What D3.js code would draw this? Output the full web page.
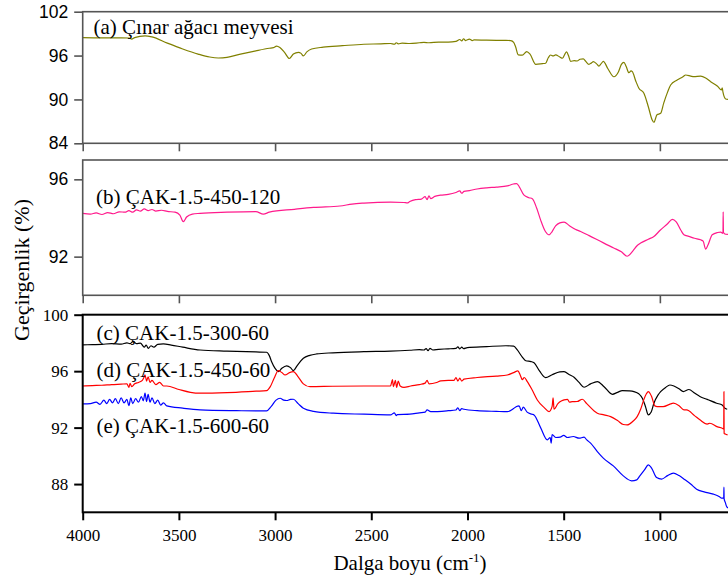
<!DOCTYPE html>
<html>
<head>
<meta charset="utf-8">
<script src="https://cdn.jsdelivr.net/npm/d3@7/dist/d3.min.js"></script>
<style>
  html, body { margin: 0; padding: 0; background: #fff; }
  svg { display: block; }
</style>
</head>
<body>
<svg id="chart" width="728" height="580"></svg>
<script>
// FTIR spectra: wavenumber (cm-1) and transmittance (%)
const xTicks = [4000, 3500, 3000, 2500, 2000, 1500, 1000];

const ticksA = [84, 90, 96, 102];
const ticksB = [92, 96];
const ticksC = [88, 92, 96, 100];

const labelA = "(a) Çınar ağacı meyvesi";
const labelB = "(b) ÇAK-1.5-450-120";
const labelC = "(c) ÇAK-1.5-300-60";
const labelD = "(d) ÇAK-1.5-450-60";
const labelE = "(e) ÇAK-1.5-600-60";

const seriesA = [
  [4000,98.45],[3900,98.42],[3800,98.42],[3760,98.4],[3745,98.25],[3730,98.45],[3676,98.7],[3640,98.55],
  [3560,97.7],[3480,96.9],[3400,96.2],[3340,95.8],[3295,95.67],[3250,95.75],[3180,96.2],[3100,96.65],
  [3030,97.0],[3009,97.08],[2992,97.3],[2975,97.1],[2950,96.4],[2926,95.6],[2905,96.2],[2879,96.45],
  [2865,96.3],[2853,95.95],[2835,96.5],[2810,96.9],[2750,97.15],[2650,97.35],[2538,97.55],[2450,97.6],
  [2400,97.65],[2380,97.55],[2370,97.75],[2360,97.6],[2340,97.7],[2300,97.65],[2250,97.75],[2226,97.8],
  [2200,97.75],[2150,97.85],[2100,97.85],[2060,97.95],[2040,98.2],[2030,98.0],[2020,98.3],[2010,98.05],
  [1990,98.25],[1975,98.05],[1966,98.15],[1900,98.1],[1800,98.08],[1775,98.05],[1760,97.8],[1750,97.2],
  [1736,96.1],[1715,96.06],[1692,96.55],[1675,96.2],[1645,94.8],[1610,94.9],[1594,94.95],[1580,95.7],
  [1568,96.08],[1555,95.95],[1542,96.1],[1520,95.8],[1507,95.63],[1485,96.5],[1475,96.0],[1464,95.2],
  [1445,95.3],[1430,95.26],[1415,95.5],[1398,95.55],[1385,95.2],[1369,94.8],[1355,95.0],[1346,95.17],
  [1330,94.9],[1317,94.56],[1305,94.9],[1294,95.2],[1270,94.2],[1239,93.1],[1215,93.8],[1200,94.8],
  [1187,95.08],[1175,94.5],[1161,93.66],[1150,93.9],[1143,93.8],[1125,92.5],[1109,91.53],[1083,90.84],
  [1060,89.0],[1040,87.2],[1031,86.88],[1015,87.9],[996,88.1],[980,89.5],[960,91.0],[944,91.98],
  [910,92.66],[880,93.1],[866,93.34],[840,93.2],[823,93.11],[788,93.2],[760,92.9],[736,92.43],
  [700,91.8],[680,91.3],[676,91.6],[672,91.0],[658,90.06],[646,90.0]
];

const seriesB = [
  [4000,94.24],[3960,94.2],[3930,94.26],[3900,94.18],[3870,94.28],[3840,94.22],[3810,94.32],[3780,94.3],
  [3760,94.38],[3740,94.3],[3720,94.42],[3700,94.36],[3680,94.47],[3660,94.38],[3640,94.44],[3620,94.36],
  [3590,94.4],[3560,94.34],[3520,94.3],[3495,94.15],[3477,93.81],[3460,94.05],[3430,94.2],[3390,94.24],
  [3250,94.3],[3100,94.33],[3061,94.2],[3030,94.3],[2900,94.45],[2800,94.55],[2663,94.62],[2600,94.72],
  [2538,94.77],[2400,94.82],[2330,94.8],[2313,94.78],[2300,94.85],[2270,94.95],[2240,94.98],[2220,95.1],
  [2210,94.95],[2200,95.15],[2191,95.0],[2170,95.12],[2140,95.18],[2100,95.22],[2060,95.32],[2040,95.4],
  [2030,95.28],[2018,95.38],[1990,95.42],[1950,95.5],[1900,95.56],[1850,95.6],[1793,95.66],[1760,95.76],
  [1744,95.78],[1730,95.6],[1706,95.18],[1680,95.05],[1663,95.0],[1640,94.5],[1620,93.9],[1595,93.3],
  [1576,93.13],[1560,93.3],[1542,93.59],[1520,93.75],[1498,93.79],[1470,93.6],[1440,93.42],[1412,93.3],
  [1370,93.1],[1330,92.9],[1291,92.7],[1240,92.45],[1200,92.25],[1170,92.02],[1140,92.3],[1120,92.55],
  [1100,92.7],[1060,92.9],[1031,93.04],[1000,93.35],[960,93.7],[935,93.93],[915,93.8],[890,93.35],
  [875,93.13],[850,93.05],[820,92.95],[788,92.87],[775,92.8],[762,92.39],[750,92.6],[728,93.13],
  [700,93.25],[684,93.27],[672,93.2],[671,94.32],[669.5,93.25],[658,93.16],[646,93.15]
];

const seriesC = [
  [4000,97.86],[3950,97.88],[3900,97.9],[3850,97.95],[3800,97.92],[3770,98.0],[3755,97.95],[3737,98.1],
  [3720,97.95],[3700,97.98],[3680,97.7],[3670,97.85],[3659,97.62],[3645,97.8],[3630,97.7],[3610,97.9],
  [3581,97.93],[3540,97.85],[3480,97.7],[3390,97.5],[3250,97.42],[3100,97.36],[3044,97.34],[3030,97.1],
  [3018,96.67],[3000,96.2],[2983,95.97],[2965,96.2],[2940,96.37],[2920,96.25],[2905,96.04],[2885,96.4],
  [2853,96.91],[2820,97.12],[2784,97.22],[2700,97.3],[2538,97.38],[2400,97.42],[2300,97.48],[2250,97.52],
  [2226,97.5],[2215,97.6],[2205,97.45],[2195,97.62],[2180,97.5],[2150,97.55],[2100,97.58],[2060,97.62],
  [2050,97.72],[2040,97.58],[2030,97.7],[2020,97.6],[2001,97.67],[1900,97.74],[1800,97.8],[1760,97.78],
  [1741,97.5],[1715,97.0],[1697,96.74],[1670,96.68],[1654,96.6],[1625,96.0],[1594,95.54],[1560,95.75],
  [1520,95.95],[1498,95.97],[1470,95.75],[1446,95.57],[1420,95.2],[1394,94.86],[1360,95.1],[1325,95.26],
  [1290,94.9],[1247,94.36],[1220,94.5],[1195,94.62],[1160,94.6],[1135,94.55],[1110,94.4],[1091,94.08],
  [1075,93.5],[1060,92.9],[1045,93.1],[1031,93.73],[1010,94.3],[996,94.55],[970,94.85],[948,95.02],
  [927,94.95],[900,94.75],[878,94.55],[849,94.7],[820,94.45],[792,94.2],[754,94.0],[705,93.73],
  [676,93.6],[662,93.37],[650,93.3]
];

const seriesD = [
  [4000,94.95],[3950,94.98],[3900,95.0],[3850,95.05],[3800,95.08],[3770,95.1],[3760,94.85],[3754,95.14],
  [3745,94.9],[3730,95.1],[3710,95.2],[3690,95.35],[3680,95.6],[3676,95.73],[3668,95.3],[3660,95.6],
  [3650,95.2],[3640,95.35],[3620,95.05],[3600,95.2],[3580,94.95],[3563,94.95],[3500,94.7],[3440,94.5],
  [3390,94.44],[3250,94.48],[3100,94.58],[3044,94.62],[3025,94.9],[3005,95.5],[2983,96.04],[2965,95.9],
  [2948,95.73],[2925,95.9],[2905,95.97],[2880,95.6],[2853,95.1],[2819,94.9],[2700,94.93],[2538,94.95],
  [2400,94.95],[2390,95.4],[2385,94.9],[2375,95.35],[2368,94.85],[2360,95.3],[2350,94.95],[2330,94.85],
  [2295,94.95],[2250,95.05],[2220,95.15],[2210,95.35],[2200,95.1],[2160,95.2],[2139,95.31],[2100,95.35],
  [2070,95.35],[2060,95.55],[2050,95.3],[2040,95.5],[2030,95.3],[2018,95.43],[1950,95.55],[1850,95.65],
  [1793,95.73],[1760,95.9],[1738,96.02],[1725,95.7],[1715,95.4],[1705,95.55],[1689,95.26],[1665,94.7],
  [1637,93.96],[1600,93.4],[1576,93.13],[1560,93.5],[1555,94.1],[1550,93.3],[1530,93.7],[1510,93.9],
  [1498,93.96],[1480,94.0],[1470,93.8],[1455,93.84],[1430,93.85],[1403,94.01],[1380,93.7],[1325,93.02],
  [1290,92.9],[1256,92.78],[1220,92.5],[1190,92.22],[1170,92.19],[1140,92.45],[1118,92.78],[1100,93.3],
  [1083,94.0],[1070,94.4],[1060,94.55],[1050,94.4],[1043,94.2],[1026,93.54],[1014,93.49],[983,93.49],
  [944,93.68],[930,93.73],[900,93.55],[875,93.26],[861,93.26],[820,92.85],[792,92.55],[754,92.25],
  [740,92.31],[700,92.05],[676,91.96],[668,91.9],[667,94.55],[666,91.6],[660,91.55],[648,91.49]
];

const seriesE = [
  [4000,93.68],[3960,93.7],[3930,93.8],[3910,93.65],[3890,93.95],[3875,93.7],[3860,94.0],[3845,93.75],
  [3830,94.05],[3815,93.7],[3800,94.1],[3785,93.75],[3770,94.0],[3760,93.55],[3750,94.1],[3740,93.7],
  [3725,94.05],[3710,93.8],[3695,94.2],[3685,93.9],[3676,94.44],[3668,93.85],[3660,94.35],[3650,93.8],
  [3640,94.1],[3625,93.7],[3610,93.95],[3595,93.6],[3580,93.75],[3563,93.54],[3480,93.38],[3390,93.26],
  [3200,93.2],[3044,93.18],[3020,93.5],[2995,93.95],[2974,94.08],[2955,93.95],[2940,93.92],[2920,94.0],
  [2905,94.01],[2880,93.7],[2853,93.37],[2800,93.15],[2697,93.02],[2538,92.95],[2400,92.9],[2380,93.05],
  [2370,92.85],[2365,92.92],[2300,92.95],[2250,93.05],[2220,93.1],[2210,93.25],[2191,93.13],[2100,93.2],
  [2060,93.25],[2050,93.4],[2040,93.2],[2030,93.35],[2018,93.3],[1950,93.2],[1850,93.15],[1793,93.13],
  [1760,93.35],[1745,93.5],[1732,93.54],[1720,93.2],[1710,93.45],[1690,93.1],[1665,92.95],[1654,92.9],
  [1620,92.0],[1585,91.13],[1570,91.3],[1565,90.9],[1560,91.5],[1540,91.3],[1518,91.32],[1500,91.45],
  [1480,91.3],[1450,91.37],[1420,91.25],[1394,91.32],[1380,91.13],[1360,90.9],[1325,90.3],[1294,89.84],
  [1242,89.29],[1190,88.58],[1147,88.23],[1120,88.3],[1104,88.58],[1080,89.0],[1060,89.36],[1043,89.13],
  [1017,88.46],[991,88.35],[960,88.6],[930,88.78],[900,88.6],[869,88.3],[840,88.0],[809,87.64],
  [770,87.45],[722,87.29],[690,87.1],[679,87.0],[668,87.0],[667,87.78],[666,86.95],[660,86.7],
  [653,86.41],[646,86.3]
];

const SERIF = '"Liberation Serif"';
const SANS = '"Liberation Sans"';

const svg = d3.select("#chart");

// shared wavenumber axis (reversed), runs past the right edge of the canvas
const x = d3.scaleLinear().domain([4000, 400]).range([82.7, 775.3]);

const panels = [
  { id: "a", top: 11.7, bottom: 143.3, domain: [84, 102], ticks: ticksA, frame: "#555", fw: 1.6,
    font: SANS, fsize: 17.5, series: [{ data: seriesA, color: "#808000" }],
    labels: [{ text: labelA, x: 93.5, y: 33.5 }] },
  { id: "b", top: 160, bottom: 295.3, domain: [90, 97], ticks: ticksB, frame: "#555", fw: 1.6,
    font: SANS, fsize: 17.5, series: [{ data: seriesB, color: "#ff1a8c" }],
    labels: [{ text: labelB, x: 96, y: 203.5 }] },
  { id: "c", top: 314.7, bottom: 512.3, domain: [86, 100], ticks: ticksC, frame: "#000", fw: 2,
    font: SERIF, fsize: 17,
    series: [{ data: seriesC, color: "#000" }, { data: seriesD, color: "#ff0000" }, { data: seriesE, color: "#0000ff" }],
    labels: [{ text: labelC, x: 96.5, y: 340 }, { text: labelD, x: 96.5, y: 376.5 }, { text: labelE, x: 96.5, y: 432.5 }] }
];

panels.forEach(p => {
  const y = d3.scaleLinear().domain(p.domain).range([p.bottom, p.top]);
  const g = svg.append("g");

  g.append("clipPath").attr("id", "clip-" + p.id)
    .append("rect").attr("x", x.range()[0]).attr("y", p.top)
    .attr("width", x.range()[1] - x.range()[0]).attr("height", p.bottom - p.top);

  const line = d3.line().x(d => x(d[0])).y(d => y(d[1])).curve(d3.curveMonotoneX);
  p.series.forEach(s => {
    g.append("path").datum(s.data)
      .attr("clip-path", "url(#clip-" + p.id + ")")
      .attr("fill", "none").attr("stroke", s.color)
      .attr("stroke-width", 1.2).attr("stroke-linejoin", "round")
      .attr("d", line);
  });

  // left axis
  const yAxis = g.append("g").attr("transform", `translate(${x.range()[0]},0)`)
    .call(d3.axisLeft(y).tickValues(p.ticks).tickSize(8.5).tickPadding(6).tickFormat(d3.format("d")));
  yAxis.select(".domain").remove();
  yAxis.selectAll(".tick line").attr("stroke", p.frame).attr("stroke-width", p.fw);
  yAxis.selectAll("text").style("font-family", p.font).style("font-size", p.fsize + "px").attr("fill", "#000");

  // bottom axis
  const xAxis = g.append("g").attr("transform", `translate(0,${p.bottom})`)
    .call(d3.axisBottom(x).tickValues(xTicks).tickSize(8).tickFormat(p.id === "c" ? d3.format("d") : ""));
  xAxis.select(".domain").remove();
  xAxis.selectAll(".tick line").attr("stroke", p.frame).attr("stroke-width", p.fw);
  xAxis.selectAll("text").style("font-family", SERIF).style("font-size", "17px").attr("fill", "#000").attr("dy", "1.05em");

  // frame
  g.append("rect").attr("x", x.range()[0]).attr("y", p.top)
    .attr("width", x.range()[1] - x.range()[0]).attr("height", p.bottom - p.top)
    .attr("fill", "none").attr("stroke", p.frame).attr("stroke-width", p.fw);

  p.labels.forEach(l => {
    g.append("text").attr("x", l.x).attr("y", l.y)
      .style("font-family", SERIF).style("font-size", "21px").attr("fill", "#000")
      .text(l.text);
  });
});

// axis titles
svg.append("text")
  .attr("transform", "translate(29,270) rotate(-90)")
  .attr("text-anchor", "middle")
  .style("font-family", SERIF).style("font-size", "22px").attr("fill", "#000")
  .text("Geçirgenlik (%)");

const xt = svg.append("text")
  .attr("x", 410).attr("y", 570).attr("text-anchor", "middle")
  .style("font-family", SERIF).style("font-size", "21px").attr("fill", "#000");
xt.append("tspan").text("Dalga boyu (cm");
xt.append("tspan").attr("dy", -8).style("font-size", "13px").text("-1");
xt.append("tspan").attr("dy", 8).text(")");
</script>
</body>
</html>
